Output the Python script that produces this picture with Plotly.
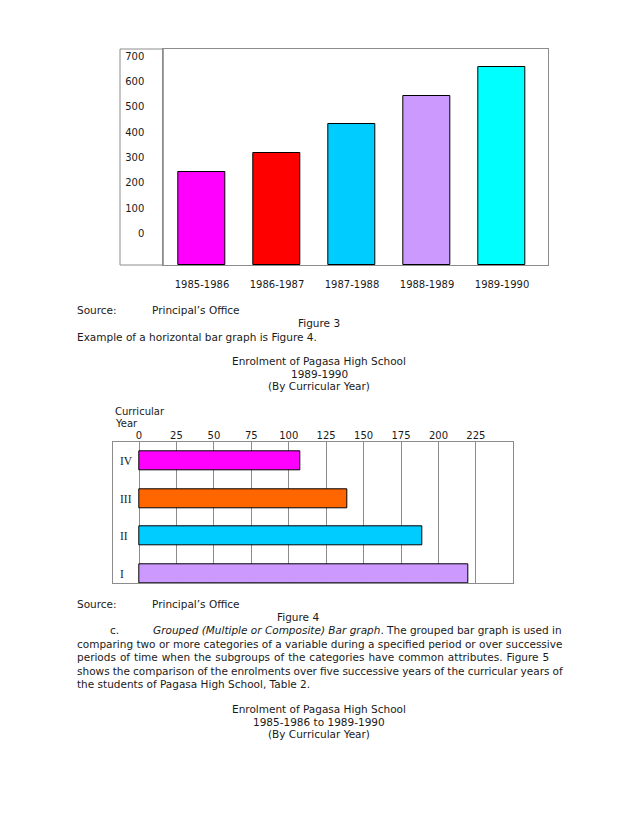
import plotly.graph_objects as go

W, H = 638, 826
OFF = 8  # default page body margin
FW, FH = W - 2 * OFF, H - 2 * OFF

# ---------------- data ----------------
years = ["1985-1986", "1986-1987", "1987-1988", "1988-1989", "1989-1990"]
enrolment = [243, 318, 430, 543, 655]
year_colors = ["#FF00FF", "#FF0000", "#00CCFF", "#CC99FF", "#00FFFF"]
y_ticks_1 = [0, 100, 200, 300, 400, 500, 600, 700]
Y_MIN_1 = -125

curr_years = ["I", "II", "III", "IV"]
curr_enrol = [220, 189, 139, 108]
curr_colors = ["#CC99FF", "#00CCFF", "#FF6600", "#FF00FF"]
x_ticks_2 = [0, 25, 50, 75, 100, 125, 150, 175, 200, 225]

FONT = "DejaVu Sans"
TXT = "#1a1a1a"
GRAY = "#8c8c8c"


def px(x):
    return (x - OFF) / FW


def py(y):
    return 1 - (y - OFF) / FH


fig = go.Figure()

fig.add_trace(go.Bar(
    x=years, y=[v - Y_MIN_1 for v in enrolment], base=Y_MIN_1,
    width=0.63, marker=dict(color=year_colors, line=dict(color="#000", width=1)),
    xaxis="x", yaxis="y", showlegend=False,
))

fig.add_trace(go.Bar(
    y=curr_years, x=curr_enrol, orientation="h",
    width=0.5, marker=dict(color=curr_colors, line=dict(color="#000", width=1)),
    xaxis="x2", yaxis="y2", showlegend=False,
))

fig.update_layout(
    width=FW, height=FH, margin=dict(l=0, r=0, t=0, b=0),
    paper_bgcolor="white", plot_bgcolor="white",
    font=dict(family=FONT, size=10, color=TXT),
    xaxis=dict(domain=[px(163.3), px(548.3)], anchor="y", range=[-0.516, 4.617],
               showgrid=False, zeroline=False, showline=True, mirror=True,
               linecolor=GRAY, linewidth=1, ticks="", ticklabelstandoff=10,
               tickfont=dict(family=FONT, size=10, color=TXT)),
    yaxis=dict(domain=[py(265), py(49)], anchor="x", range=[Y_MIN_1, 728],
               tickvals=y_ticks_1, showgrid=False, zeroline=False,
               showline=True, mirror=True, linecolor=GRAY, linewidth=1,
               ticks="", ticklabelstandoff=16,
               tickfont=dict(family=FONT, size=10, color=TXT)),
    xaxis2=dict(domain=[px(113.3), px(513.3)], anchor="y2", side="top",
                range=[-17.2, 250], tickvals=x_ticks_2, showgrid=True,
                gridcolor=GRAY, gridwidth=1.3, zeroline=True, zerolinecolor=GRAY,
                zerolinewidth=1.3, showline=True, mirror=True, linecolor=GRAY,
                linewidth=1, ticks="", ticklabelstandoff=-2,
                tickfont=dict(family=FONT, size=10, color=TXT)),
    yaxis2=dict(domain=[py(583.3), py(442.3)], anchor="x2", range=[-0.26, 3.5],
                showgrid=False, zeroline=False, showline=True, mirror=True,
                linecolor=GRAY, linewidth=1, ticks="", ticklabelposition="inside",
                ticklabelstandoff=6,
                tickfont=dict(family="Liberation Serif", size=11.5, color=TXT)),
    bargap=0,
)

# left label box of the first chart
fig.add_shape(type="rect", xref="paper", yref="paper",
              x0=px(120), x1=px(163.3), y0=py(265), y1=py(49),
              line=dict(color=GRAY, width=1), layer="below")


def text(x, y, s, anchor="left", size=10.5, ws=None):
    if ws is not None:
        s = f'<span style="word-spacing:{ws}px">{s}</span>'
    fig.add_annotation(x=px(x), y=py(y), xref="paper", yref="paper", text=s,
                       showarrow=False, xanchor=anchor, yanchor="middle",
                       font=dict(family=FONT, size=size, color=TXT))


text(75, 310, "Source:")
text(150, 310, "Principal’s Office")
text(319, 323, "Figure 3", "center")
text(75, 336.5, "Example of a horizontal bar graph is Figure 4.")
text(319, 361, "Enrolment of Pagasa High School", "center")
text(319, 373.5, "1989-1990", "center")
text(319, 386, "(By Curricular Year)", "center")
text(113, 411.5, "Curricular", size=10)
text(113, 423.5, "Year", size=10)

text(75, 603.5, "Source:")
text(150, 603.5, "Principal’s Office")
text(298, 617, "Figure 4", "center")
text(108, 630, "c.")
text(150.7, 630, "<i>Grouped (Multiple or Composite) Bar graph</i>. The grouped bar graph is used in")
text(75, 643.5, "comparing two or more categories of a variable during a specified period or over successive")
text(75, 657, "periods of time when the subgroups of the categories have common attributes. Figure 5", ws=0.65)
text(75, 670.5, "shows the comparison of the enrolments over five successive years of the curricular years of", ws=-0.25)
text(75, 684, "the students of Pagasa High School, Table 2.")
text(319, 709, "Enrolment of Pagasa High School", "center")
text(319, 721.5, "1985-1986 to 1989-1990", "center")
text(319, 734, "(By Curricular Year)", "center")

fig.write_html("out.html")
